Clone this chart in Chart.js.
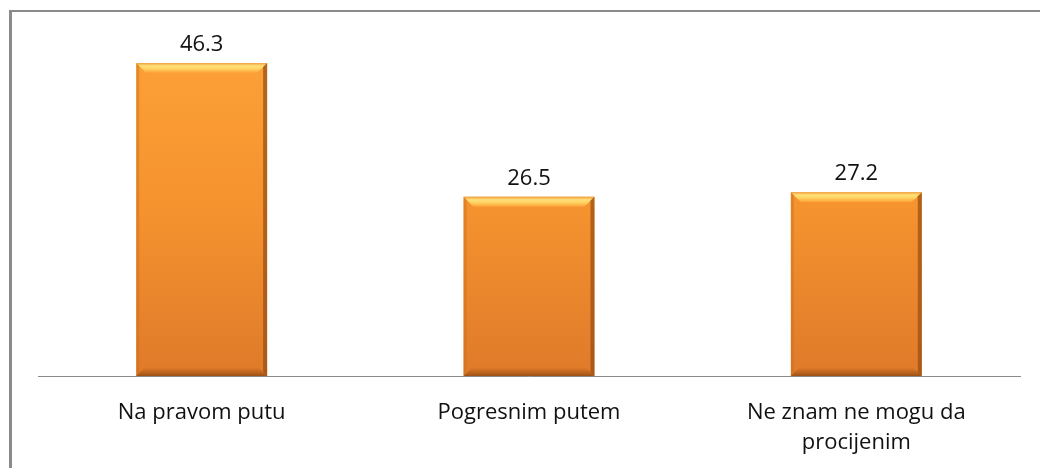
<!DOCTYPE html>
<html>
<head>
<meta charset="utf-8">
<script src="https://cdn.jsdelivr.net/npm/chart.js@4"></script>
<style>
  html, body { margin: 0; padding: 0; background: #fff; }
  #frame {
    position: absolute; left: 9px; top: 10px; width: 1031px; height: 458px;
    border-top: 2px solid #8a8a8a; border-left: 3px solid #8a8a8a;
  }
  #wrap { position: absolute; left: 0; top: 0; width: 1028px; height: 456px; }
</style>
</head>
<body>
<div id="frame"><div id="wrap"><canvas id="chart"></canvas></div></div>
<script>
// chart values
var categories = [['Na pravom putu'], ['Pogresnim putem'], ['Ne znam ne mogu da', 'procijenim']];
var values = [46.3, 26.5, 27.2];
var axisMax = 50;

// bevel look like the office bars
var bevelPlugin = {
  id: 'bevel',
  afterDatasetsDraw: function (chart) {
    var ctx = chart.ctx;
    chart.getDatasetMeta(0).data.forEach(function (bar) {
      var l = bar.x - bar.width / 2, r = bar.x + bar.width / 2, t = bar.y, b = bar.base;
      var e = 10;
      ctx.save();
      // top
      var g = ctx.createLinearGradient(0, t, 0, t + e);
      g.addColorStop(0, '#f0a040');
      g.addColorStop(0.3, '#ffe27a');
      g.addColorStop(0.6, '#ffd060');
      g.addColorStop(1, '#fda036');
      ctx.fillStyle = g;
      ctx.beginPath();
      ctx.moveTo(l, t); ctx.lineTo(r, t); ctx.lineTo(r - e, t + e); ctx.lineTo(l + e, t + e); ctx.closePath();
      ctx.fill();
      // left
      ctx.fillStyle = 'rgba(200,110,25,0.45)';
      ctx.beginPath();
      ctx.moveTo(l, t); ctx.lineTo(l + 3, t + 3); ctx.lineTo(l + 3, b - 3); ctx.lineTo(l, b); ctx.closePath();
      ctx.fill();
      // right
      ctx.fillStyle = 'rgba(150,75,15,0.7)';
      ctx.beginPath();
      ctx.moveTo(r, t); ctx.lineTo(r - 4, t + 4); ctx.lineTo(r - 4, b - 4); ctx.lineTo(r, b); ctx.closePath();
      ctx.fill();
      // bottom
      var gb = ctx.createLinearGradient(0, b - 8, 0, b);
      gb.addColorStop(0, 'rgba(170,85,20,0.1)');
      gb.addColorStop(1, 'rgba(140,70,15,0.8)');
      ctx.fillStyle = gb;
      ctx.beginPath();
      ctx.moveTo(l, b); ctx.lineTo(r, b); ctx.lineTo(r - 8, b - 8); ctx.lineTo(l + 8, b - 8); ctx.closePath();
      ctx.fill();
      ctx.restore();
    });
  }
};

var valueLabels = {
  id: 'valueLabels',
  afterDatasetsDraw: function (chart) {
    var ctx = chart.ctx;
    ctx.save();
    ctx.font = '22px "Open Sans", sans-serif';
    ctx.fillStyle = '#111';
    ctx.textAlign = 'center';
    ctx.textBaseline = 'middle';
    chart.getDatasetMeta(0).data.forEach(function (bar, i) {
      ctx.fillText(values[i].toFixed(1), bar.x, bar.y - 18);
    });
    ctx.restore();
  }
};

new Chart(document.getElementById('chart'), {
  type: 'bar',
  data: {
    labels: categories,
    datasets: [{
      data: values,
      backgroundColor: function (c) {
        var area = c.chart.chartArea;
        if (!area) return '#f99b2f';
        var g = c.chart.ctx.createLinearGradient(0, area.top, 0, area.bottom);
        g.addColorStop(0, '#fda237');
        g.addColorStop(0.5, '#f5932f');
        g.addColorStop(1, '#df7a2a');
        return g;
      },
      borderWidth: 0,
      barPercentage: 0.4,
      categoryPercentage: 1
    }]
  },
  options: {
    responsive: true,
    maintainAspectRatio: false,
    animation: false,
    layout: { padding: { left: 26, right: 20, top: 26, bottom: 0 } },
    plugins: { legend: { display: false }, tooltip: { enabled: false } },
    scales: {
      y: { display: false, min: 0, max: axisMax },
      x: {
        grid: { display: false, drawTicks: false },
        border: { color: '#8a8a8a', width: 1 },
        ticks: {
          color: '#111',
          padding: 22,
          maxRotation: 0,
          autoSkip: false,
          font: { family: '"Open Sans", sans-serif', size: 22, lineHeight: 1.36 }
        },
        afterFit: function (scale) { scale.height = 92; }
      }
    }
  },
  plugins: [bevelPlugin, valueLabels]
});
</script>
</body>
</html>
